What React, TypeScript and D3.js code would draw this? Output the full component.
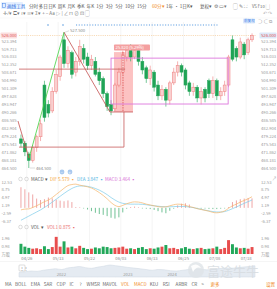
import React from "react";
import * as d3 from "d3";

// daily candles, 04/24 .. 07/19
const opens = [478, 476, 471, 468, 474, 479, 503, 494, 491, 500, 507, 524, 513, 518, 509, 514, 520, 516, 512, 514,
  509, 506, 499, 494, 492, 503, 509, 516, 520, 516, 519, 514, 511, 506, 509, 503, 498, 501, 496, 504,
  509, 512, 510, 504, 500, 502, 497, 501, 505, 499, 505, 498, 500, 503, 524, 520, 516, 522, 518, 524];
const highs = [480, 477, 472, 475, 480, 487, 505, 496, 502, 510, 517, 527.5, 521, 519, 516, 524, 522, 518, 517, 516,
  511, 507, 500, 496, 504, 511, 519, 521, 522, 521, 520, 516, 512, 512, 510, 505, 503, 502, 505, 511,
  514, 513, 511, 505, 504, 503, 502, 502, 506, 507, 506, 502, 505, 517, 526, 521, 525, 523, 525, 527];
const lows = [474, 470, 464.5, 467, 472, 477, 486, 488, 490, 499, 505, 511, 511, 506, 507, 512, 513, 510, 510, 507,
  503, 497, 491, 489, 491, 502, 508, 514, 514, 515, 512, 508, 504, 503, 500, 496, 496, 493, 494, 503,
  507, 507, 501, 498, 498, 495, 494, 495, 497, 497, 496, 496, 498, 502, 514, 514, 515, 515, 517, 523];
const closes = [476, 472, 468, 474, 479, 485, 488, 490, 500, 508, 516, 513, 519, 508, 514, 521, 515, 512, 515, 508,
  505, 499, 493, 491, 503, 509, 517, 519, 516, 519, 514, 510, 506, 510, 502, 498, 501, 496, 504, 509,
  512, 509, 503, 500, 502, 497, 500, 497, 499, 505, 498, 500, 503, 516, 515, 516, 523, 517, 524, 526];
const volumes = [1.25, 0.9, 0.75, 0.65, 0.7, 0.6, 0.95, 0.6, 0.85, 2.1, 0.9, 1.55, 0.8, 0.9, 0.7, 1.0, 0.75, 0.6, 0.65, 0.8,
  0.7, 0.9, 0.85, 0.7, 0.75, 0.8, 0.9, 0.65, 0.7, 0.6, 0.75, 0.85, 0.6, 0.7, 0.65, 0.8, 0.9, 1.1, 0.7, 0.75,
  0.6, 0.7, 0.85, 0.65, 0.6, 0.7, 0.75, 0.6, 0.65, 0.7, 0.9, 0.6, 0.75, 1.7, 1.2, 0.8, 0.7, 0.75, 0.65, 0.85];

const difValues = [-1.0, -0.6, -0.5, 0.2, 1.0, 2.0, 3.0, 3.8, 5.0, 6.5, 8.0, 9.5, 10.8, 11.3, 11.5, 11.0, 10.6, 10.2, 9.6, 8.6,
  7.4, 6.0, 4.4, 2.6, 1.2, 0.6, 1.2, 2.0, 2.6, 2.9, 2.8, 2.4, 1.8, 1.4, 1.0, 0.6, 0.4, 0.5, 1.0, 1.5,
  1.8, 1.7, 1.2, 0.6, 0.2, -0.4, -0.8, -1.2, -1.6, -2.2, -2.4, -2.1, -1.5, -0.2, 1.0, 1.8, 2.8, 3.6, 4.4, 5.4];
const deaValues = [-6.0, -5.0, -4.0, -3.0, -2.0, -1.0, 0.2, 1.4, 2.8, 4.2, 5.6, 7.0, 8.3, 9.4, 10.2, 10.6, 10.6, 10.4, 10.0, 9.4,
  8.6, 7.6, 6.4, 5.0, 3.8, 2.8, 2.2, 1.9, 1.8, 1.8, 1.8, 1.7, 1.5, 1.2, 1.0, 0.8, 0.6, 0.5, 0.5, 0.6,
  0.7, 0.7, 0.6, 0.4, 0.1, -0.3, -0.7, -1.1, -1.5, -1.8, -2.0, -2.0, -1.8, -1.2, -0.4, 0.4, 1.3, 2.2, 3.0, 3.8];
const macdBars = [10.0, 9.0, 7.5, 6.5, 4.5, 3.8, 4.2, 5.0, 4.6, 4.0, 3.5, 3.2, 3.6, 2.8, 0.4, 0.2, -0.2, -0.8, -1.6, -2.4,
  -3.0, -3.4, -4.0, -4.8, -5.2, -4.6, -2.2, -0.4, 0.4, 0.6, 0.3, -0.2, -0.4, -0.6, -1.0, -1.6, -2.2, -2.6, -1.4, -0.4,
  1.2, 2.0, 2.2, 1.6, 0.4, -0.2, -0.4, -0.3, -0.5, -0.6, -0.6, -0.4, -0.2, 0.4, 2.8, 3.6, 4.2, 4.5, 4.8, 4.6];

const navValues = [0.3, 0.35, 0.4, 0.38, 0.45, 0.5, 0.55, 0.5, 0.6, 0.65, 0.7, 0.62, 0.58, 0.66, 0.72, 0.8, 0.75, 0.7, 0.64, 0.6,
  0.55, 0.5, 0.45, 0.5, 0.48, 0.42, 0.4, 0.45, 0.5, 0.55, 0.52, 0.48, 0.5, 0.55, 0.6, 0.58, 0.62, 0.66, 0.7, 0.75];
const yearLabels = ["2022", "2023", "2024"];
const yearIdx = [7, 18, 25.3];

const priceTicks = [523.394, 519.713, 516.033, 512.352, 508.671, 504.990, 501.309, 497.628, 493.947, 490.266,
  486.585, 482.904, 479.224, 475.543, 471.862, 468.181, 464.500];
const lastPrice = 526.0;
const maxPrice = 527.5;
const minPrice = 464.5;

const dateLabels = ["04/26", "05/13", "05/22", "06/03", "06/13", "06/25", "07/08", "07/18"];
const dateIdx = [2, 10, 18, 26, 34, 42, 50, 58];

const macdTicks = [12.53, 8.75, 4.97, 1.19, -2.59, -6.37];
const volTicks = ["1.96", "0.98", "万股"];
const volTickVals = [1.96, 0.98, 0];

// user drawings: [index, price]
const trendUp = [[2.05, 469.1], [11.0, 527.5]];
const trendLead = [[-0.76, 486.3], [2.05, 469.1]];
const trendDown = [[11.0, 527.5], [22.7, 490.5], [28.6, 490.5]];
const levelHigh = [[-0.5, 510.4], [26.6, 510.4]];
const levelLow = [[-0.5, 474.2], [26.3, 474.2], [26.3, 490.5]];
const rangeBox = [23.75, 28.6, 490.5, 518.3];
const channelBox = [23.0, 52.9, 494.2, 515.5];

const FONT = "'Noto Sans CJK SC','Noto Sans',sans-serif";
const UP = "#ee7d7d";
const UPFILL = "#f9cfcf";
const DOWN = "#1fa456";

const topTabs = ["分时", "多日", "日K", "周K", "月K", "季K", "年K", "1分", "3分", "5分", "10分", "15分"];
const bottomTabs = ["MA", "BOLL", "EMA", "SAR", "CDP", "IC", "?", "WMSR", "MAVOL", "VOL", "MACD", "KDJ", "RSI", "ARBR", "CR", ">"];

export default function App() {
  const n = closes.length;
  const x = d3.scaleBand<number>().domain(d3.range(n)).range([19, 254]).paddingInner(0.25).paddingOuter(0.125);
  const bw = x.bandwidth();
  const step = x.step();
  const cx = (i: number) => (x(i) ?? 0) + bw / 2;
  const xi = d3.scaleLinear().domain([-0.5, n - 0.5]).range([19, 254]);
  const yP = d3.scaleLinear().domain([464.5, 526]).range([168, 35.5]);
  const yM = d3.scaleLinear().domain([-6.37, 12.53]).range([221, 182]);
  const yV = d3.scaleLinear().domain([0, 1.96]).range([254, 238]);
  const xN = d3.scaleLinear().domain([0, navValues.length - 1]).range([19, 255]);
  const yN = d3.scaleLinear().domain([0, 1]).range([277, 262]);

  const pl = d3.line<number[]>().x(d => xi(d[0])).y(d => yP(d[1]));
  const difLine = d3.line<number>().x((d, i) => cx(i)).y(d => yM(d)).curve(d3.curveMonotoneX);
  const navArea = d3.area<number>().x((d, i) => xN(i)).y0(277).y1(d => yN(d)).curve(d3.curveMonotoneX);

  const small = { fontFamily: FONT, fontSize: 4.6 };
  const axisFont = { fontFamily: FONT, fontSize: 4.2 };

  // layout of top toolbar
  let tx = 29;
  const tabPos = topTabs.map(t => { const p = tx; tx += t.length > 2 ? 12 : 9.6; return p; });
  let bx = 5;
  const btPos = bottomTabs.map(t => { const p = bx; bx += t.length * 2.9 + 4.2; return p; });

  return (
    <svg width={277} height={289} viewBox="0 0 277 289"
      style={{ position: "absolute", left: 0, top: 0, background: "#fff", display: "block" }}>
      <rect width={277} height={289} fill="#fff" />

      {/* toolbar row 1 */}
      <rect x={1} y={2} width={22} height={7} rx={1} fill="#e4efff" />
      <rect x={2.5} y={3.5} width={3} height={4} fill="none" stroke="#3d7ee8" strokeWidth={0.5} />
      <text x={7} y={7.5} style={small} fill="#2f6fe0">画线工具</text>
      {topTabs.map((t, i) => (
        <text key={t} x={tabPos[i]} y={7.5} style={small} fill="#555">{t}</text>
      ))}
      <text x={152} y={7.5} style={small} fill="#f08a24">60分▾</text>
      <text x={166} y={7.5} style={small} fill="#555">1年 · 1日K▾</text>
      <text x={200} y={7.5} style={small} fill="#555">复权▾</text>
      <text x={214} y={7.5} style={small} fill="#777">⚙ ▭▾</text>
      <text x={233} y={7.5} style={small} fill="#777">▢ ✎ ⛶</text>
      <text x={252} y={7.5} style={axisFont} fill="#666">VS F10 ▢</text>

      {/* toolbar row 2 */}
      <text x={3} y={15} style={small} fill="#777">✛  ⁄▾  ⊏▾  ≀▾  ≡▾  Σ▾  +  −  Aa  ▷  |  ∠  ⊓  ⊘  ⊡  ▢</text>
      <text x={263} y={15} style={small} fill="#bbb">↶ ↷</text>
      <line x1={0} y1={18} x2={277} y2={18} stroke="#f0f0f0" strokeWidth={0.5} />

      {/* vertical grid */}
      {dateIdx.map(i => (
        <line key={i} x1={cx(i) - step / 2} x2={cx(i) - step / 2} y1={22} y2={254} stroke="#eeeeee" strokeWidth={0.6} />
      ))}

      {/* event dots */}
      <circle cx={48} cy={25} r={0.8} fill="#5a9be0" />
      <circle cx={63} cy={25} r={0.8} fill="#5a9be0" />
      <line x1={76} x2={219} y1={25} y2={25} stroke="#5a9be0" strokeWidth={1.2} strokeDasharray="1.1 1.6" />
      <rect x={243} y={18.5} width={12} height={5} rx={0.8} fill="#dbe9fb" />
      <text x={244} y={22.3} style={{ fontFamily: FONT, fontSize: 3.6 }} fill="#3d7ee8">前复权</text>
      <text x={258} y={22.5} style={small} fill="#999">⊃ ⊂ ⧉</text>

      {/* last price line */}
      <line x1={19} x2={256} y1={yP(lastPrice)} y2={yP(lastPrice)} stroke="#f3c48c" strokeWidth={0.6} strokeDasharray="1.2 1" />

      {/* price labels */}
      {priceTicks.map(p => (
        <g key={p}>
          <text x={1.5} y={yP(p) + 1.5} style={axisFont} fill="#999">{p.toFixed(3)}</text>
          <text x={261} y={yP(p) + 1.5} style={axisFont} fill="#999">{p.toFixed(3)}</text>
        </g>
      ))}
      <rect x={0.5} y={yP(lastPrice) - 3} width={16.5} height={6} rx={0.8} fill="#fbdede" />
      <text x={1.5} y={yP(lastPrice) + 1.5} style={axisFont} fill="#e05555">{lastPrice.toFixed(3)}</text>
      <rect x={259.5} y={yP(lastPrice) - 3} width={17} height={6} rx={0.8} fill="#dde8f8" />
      <text x={261} y={yP(lastPrice) + 1.5} style={axisFont} fill="#e05555">{lastPrice.toFixed(3)}</text>

      {/* drawings behind candles */}
      <rect x={xi(rangeBox[0])} width={xi(rangeBox[1]) - xi(rangeBox[0])}
        y={yP(rangeBox[3])} height={yP(rangeBox[2]) - yP(rangeBox[3])} fill="#f87878" opacity={0.45} />

      {/* candles */}
      {closes.map((c, i) => {
        const o = opens[i];
        const up = c >= o;
        const top = yP(Math.max(o, c));
        const h = Math.max(0.8, Math.abs(yP(o) - yP(c)));
        return (
          <g key={i}>
            <line x1={cx(i)} x2={cx(i)} y1={yP(highs[i])} y2={yP(lows[i])} stroke={up ? UP : DOWN} strokeWidth={0.6} />
            <rect x={x(i)} y={top} width={bw} height={h} fill={up ? UPFILL : DOWN} stroke={up ? UP : DOWN} strokeWidth={0.5} />
          </g>
        );
      })}

      {/* drawings */}
      <path d={pl(trendUp as any) || ""} fill="none" stroke="#3fd23f" strokeWidth={0.8} />
      <path d={pl(trendLead as any) || ""} fill="none" stroke="#c44f4f" strokeWidth={0.8} />
      <path d={pl(trendDown as any) || ""} fill="none" stroke="#c44f4f" strokeWidth={0.8} />
      <path d={pl(levelHigh as any) || ""} fill="none" stroke="#c85a5a" strokeWidth={0.8} />
      <path d={pl(levelLow as any) || ""} fill="none" stroke="#c85a5a" strokeWidth={0.8} />
      <line x1={xi(26.05)} x2={xi(26.05)} y1={yP(rangeBox[3])} y2={yP(rangeBox[2])} stroke="#d23a3a" strokeWidth={0.7} strokeDasharray="1.5 1" />
      <rect x={xi(channelBox[0])} width={xi(channelBox[1]) - xi(channelBox[0])}
        y={yP(channelBox[3])} height={yP(channelBox[2]) - yP(channelBox[3])} fill="none" stroke="#dc78dc" strokeWidth={0.9} />
      <rect x={xi(rangeBox[0])} y={yP(rangeBox[3]) - 7.5} width={36} height={6} rx={0.8} fill="#f4a0a0" />
      <text x={xi(rangeBox[0]) + 1.5} y={yP(rangeBox[3]) - 2.9} style={{ fontFamily: FONT, fontSize: 4.2 }} fill="#fff">25.820 (5.29%)</text>

      {/* max / min markers */}
      <line x1={cx(11) + 1} x2={69} y1={yP(maxPrice)} y2={yP(maxPrice) - 1.5} stroke="#aaa" strokeWidth={0.4} />
      <text x={70} y={yP(maxPrice) - 0.2} style={axisFont} fill="#888">{maxPrice.toFixed(3)}</text>
      <line x1={cx(2) + 1} x2={35} y1={yP(minPrice)} y2={yP(minPrice)} stroke="#aaa" strokeWidth={0.4} />
      <text x={36} y={yP(minPrice) + 1.5} style={axisFont} fill="#888">{minPrice.toFixed(3)}</text>

      {/* MACD header */}
      <circle cx={62} cy={172} r={2.4} fill="#a9c9ef" />
      <circle cx={70} cy={172} r={2.4} fill="#a9c9ef" />
      <text x={60.6} y={173.6} style={{ fontFamily: FONT, fontSize: 4 }} fill="#fff">−</text>
      <text x={68.6} y={173.6} style={{ fontFamily: FONT, fontSize: 4 }} fill="#fff">+</text>
      <circle cx={20.5} cy={179} r={1.8} fill="none" stroke="#aaa" strokeWidth={0.4} />
      <circle cx={26.5} cy={179} r={1.8} fill="none" stroke="#aaa" strokeWidth={0.4} />
      <text x={31} y={180.6} style={small} fill="#555">MACD ▾</text>
      <text x={50} y={180.6} style={small} fill="#f5a43c">DIF  5.579 ▪</text>
      <text x={77} y={180.6} style={small} fill="#4fb6e3">DEA  3.847 ▪</text>
      <text x={105} y={180.6} style={small} fill="#d76fd6">MACD  3.464 ▪</text>
      <text x={272} y={180} style={small} fill="#aaa">↗</text>

      {macdTicks.map(v => (
        <g key={v}>
          <text x={1.5} y={yM(v) + 1.5} style={axisFont} fill="#999">{v.toFixed(2)}</text>
          <text x={261} y={yM(v) + 1.5} style={axisFont} fill="#999">{v.toFixed(2)}</text>
        </g>
      ))}
      {macdBars.map((v, i) => (
        <line key={i} x1={cx(i)} x2={cx(i)} y1={yM(0)} y2={Math.abs(yM(v) - yM(0)) < 0.6 ? yM(0) - (v >= 0 ? 0.6 : -0.6) : yM(v)}
          stroke={v >= 0 ? "#eb8f8f" : "#4cb27a"} strokeWidth={0.8} />
      ))}
      <path d={difLine(deaValues) || ""} fill="none" stroke="#7ccbea" strokeWidth={0.7} />
      <path d={difLine(difValues) || ""} fill="none" stroke="#f5b469" strokeWidth={0.7} />

      {/* VOL header */}
      <circle cx={20.5} cy={227} r={1.8} fill="none" stroke="#aaa" strokeWidth={0.4} />
      <circle cx={26.5} cy={227} r={1.8} fill="none" stroke="#aaa" strokeWidth={0.4} />
      <text x={31} y={228.6} style={small} fill="#555">VOL ▾</text>
      <text x={47} y={228.6} style={small} fill="#e86b6b">VOL1  0.875 ▪</text>

      {volTicks.map((t, k) => (
        <g key={t}>
          <text x={1.5} y={yV(volTickVals[k]) + 1.5} style={axisFont} fill="#999">{t}</text>
          <text x={261} y={yV(volTickVals[k]) + 1.5} style={axisFont} fill="#999">{t}</text>
        </g>
      ))}
      {volumes.map((v, i) => (
        <rect key={i} x={x(i)} y={yV(v)} width={bw} height={yV(0) - yV(v)}
          fill={closes[i] >= opens[i] ? "#e84d4d" : "#22a85a"} />
      ))}

      {/* dates */}
      {dateIdx.map((i, k) => (
        <text key={i} x={cx(i) - step / 2} y={259.5} textAnchor="middle" style={axisFont} fill="#888">{dateLabels[k]}</text>
      ))}

      {/* navigator */}
      <line x1={0} x2={277} y1={261.5} y2={261.5} stroke="#eaeaea" strokeWidth={0.5} />
      <path d={navArea(navValues) || ""} fill="#e5ebf2" stroke="#ccd6e1" strokeWidth={0.5} />
      <rect x={19} y={265} width={6} height={6} rx={0.8} fill="#fff" stroke="#aaa" strokeWidth={0.4} />
      <text x={19.8} y={269.6} style={{ fontFamily: FONT, fontSize: 4 }} fill="#888">⋮⋮</text>
      {yearLabels.map((t, k) => (
        <text key={t} x={xN(yearIdx[k])} y={276} textAnchor="middle" style={axisFont} fill="#999">{t}</text>
      ))}

      {/* watermark */}
      <circle cx={196} cy={270} r={8} fill="#dfe3e7" opacity={0.8} />
      <path d="M191,266 Q197,262 201,268 Q196,266 193,272 Z" fill="#fff" opacity={0.9} />
      <text x={207} y={276} style={{ fontFamily: FONT, fontSize: 13 }} fill="#d7dce1" opacity={0.85}>富途牛牛</text>

      {/* indicator tabs */}
      {bottomTabs.map((t, k) => (
        <text key={t} x={btPos[k]} y={286} style={small}
          fill={t === "VOL" || t === "MACD" ? "#f08a24" : "#666"}>{t}</text>
      ))}
      <text x={bx + 2} y={286} style={small} fill="#f08a24">更多</text>
      <text x={266} y={286} style={small} fill="#f08a24">设置</text>
    </svg>
  );
}
